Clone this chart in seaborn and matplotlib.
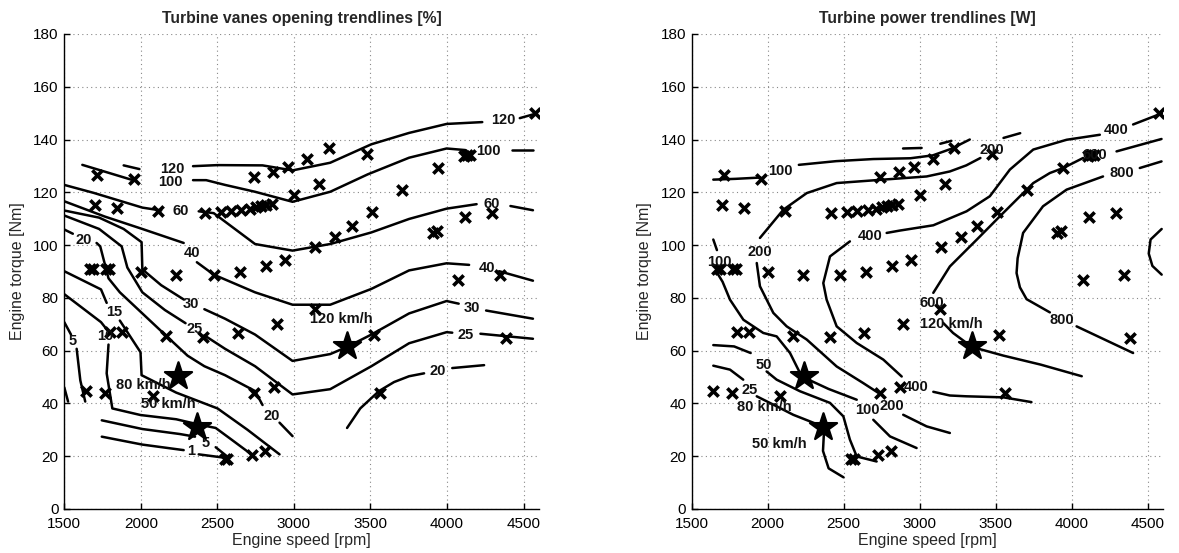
import numpy as np
import pandas as pd
import matplotlib
matplotlib.use("Agg")
import matplotlib.pyplot as plt
import seaborn as sns

# ---------------- operating points (both panels) ----------------
pts_rpm = [1715, 1953, 1698, 1843, 2112, 2418, 2522, 2586, 2657, 2711, 2755, 2787, 2820, 2857,
           2739, 2862, 2960, 3087, 3227, 3479, 3165, 3001, 3704, 3511, 3379, 3271, 3138, 2943,
           2818, 2646, 2475, 2232, 2000, 1665, 1685, 1770, 1790,
           4574, 4110, 4130, 4150, 3942, 3905, 3932, 4118, 4295, 4074, 4344, 4385,
           1796, 1880, 2164, 2409, 2636, 2891, 3136, 3523,
           1642, 1765, 2078, 2737, 2869, 3562, 2548, 2565, 2725, 2813]
pts_torque = [126.6, 125.1, 115.0, 114.2, 112.8, 112.2, 112.4, 112.8, 113.4, 113.8, 114.4, 114.9, 115.3, 115.7,
              125.8, 127.8, 129.4, 132.6, 136.8, 134.4, 123.1, 119.1, 120.8, 112.4, 107.3, 103.2, 99.1, 94.3,
              92.0, 89.7, 88.7, 88.7, 89.7, 90.9, 90.9, 90.9, 90.9,
              149.9, 133.8, 134.0, 134.0, 129.1, 104.4, 105.5, 110.5, 112.1, 86.6, 88.8, 64.8,
              67.2, 67.2, 65.7, 65.2, 66.5, 70.0, 75.7, 66.0,
              44.7, 44.1, 42.7, 44.1, 46.1, 44.1, 19.0, 19.0, 20.3, 21.9]

star_rpm = [2240, 2365, 3345]
star_torque = [50.3, 31.2, 61.8]

x_ticks = [1500, 2000, 2500, 3000, 3500, 4000, 4500]
y_ticks = [0, 20, 40, 60, 80, 100, 120, 140, 160, 180]

# ---------------- left panel: vanes opening trendlines [%] ----------------
vane_120 = [[(1888, 130.2), (1991, 128.8)],
            [(2341, 129.9), (2501, 130.3), (2795, 130.2), (2991, 128.3), (3237, 131.2), (3506, 138.2),
             (3752, 142.5), (3997, 145.9), (4230, 146.6)],
            [(4475, 148.1), (4561, 149.5)]]
vane_100 = [[(1618, 130.4), (1937, 124.8)],
            [(2341, 124.6), (2427, 124.6), (2550, 122.8), (2746, 120.2), (2991, 116.4), (3237, 120.2),
             (3482, 126.8), (3752, 133.1), (3997, 136.6), (4120, 136.0)],
            [(4426, 136.2), (4561, 136.2)]]
vane_60 = [[(1500, 122.8), (1691, 119.8), (2010, 114.2), (2133, 113.1)],
           [(2378, 112.8), (2476, 112.1), (2746, 100.4), (2991, 97.9), (3237, 100.4), (3506, 104.8),
            (3752, 109.9), (3997, 113.8), (4193, 115.5)],
           [(4414, 114.8), (4561, 113.2)]]
vane_40 = [[(1500, 116.6), (1765, 110.8), (2010, 106.1), (2280, 100.8)],
           [(2366, 93.5), (2476, 88.8), (2746, 82.1), (2991, 77.4), (3237, 77.4), (3506, 83.4),
            (3752, 90.4), (3997, 93.1), (4144, 92.5)],
           [(4340, 90.1), (4561, 86.5)]]
vane_30 = [[(1500, 113.1), (1728, 110.4), (1888, 106.1), (2005, 101.1), (2010, 90.8), (2133, 84.8), (2280, 79.4)],
           [(2415, 75.7), (2550, 72.1), (2746, 66.1), (2991, 56.1), (3237, 58.7), (3347, 61.4), (3506, 66.1),
            (3752, 74.1), (3997, 78.8), (4076, 77.8)],
           [(4255, 75.2), (4561, 72.1)]]
vane_25 = [[(1500, 111.2), (1728, 106.1), (1875, 99.5), (1912, 91.5), (2010, 82.1), (2157, 75.4), (2292, 70.4)],
           [(2415, 65.8), (2550, 60.7), (2746, 54.1), (2991, 43.4), (3237, 45.4), (3506, 54.1), (3752, 62.8),
            (3997, 67.0), (4034, 66.8)],
           [(4218, 66.4), (4561, 64.5)]]
vane_20 = [[(1500, 105.9), (1556, 104.3)],
           [(1711, 100.8), (1735, 99.5), (1789, 87.4), (1863, 82.1), (2010, 74.1), (2157, 66.1), (2305, 58.1),
            (2415, 54.1), (2550, 50.7), (2746, 44.7), (2795, 39.4)],
           [(2906, 32.7), (2991, 27.6)],
           [(3347, 30.7), (3433, 38.1), (3556, 44.7), (3654, 48.1), (3752, 50.3), (3850, 51.4)],
           [(4034, 53.4), (4242, 54.5)]]
vane_15 = [[(1500, 90.1), (1740, 83.2), (1777, 78.1)],
           [(1863, 71.4), (1998, 59.4), (2005, 50.7), (2231, 44.1), (2501, 38.1), (2697, 30.0), (2906, 20.7)]]
vane_10 = [[(1500, 81.4), (1740, 70.8), (1777, 68.1)],
           [(1789, 62.3), (1777, 51.4), (1814, 38.1), (1998, 35.6), (2231, 34.0), (2378, 32.0), (2489, 30.7),
            (2599, 26.0), (2722, 20.7)]]
vane_5 = [[(1500, 70.8), (1544, 66.1)],
          [(1581, 60.7), (1605, 48.7), (1637, 40.7)],
          [(1745, 33.6), (2010, 30.3), (2255, 28.4), (2354, 27.4)],
          [(2489, 23.4), (2562, 20.0)]]
vane_1 = [[(1500, 46.1), (1525, 40.7)],
          [(1745, 27.4), (2010, 24.4), (2280, 22.3)],
          [(2378, 20.7), (2550, 19.4)]]

vane_labels = [("120", 2206, 128.8), ("120", 4365, 147.5), ("100", 2194, 123.9), ("100", 4267, 135.8),
               ("60", 2260, 112.8), ("60", 4291, 115.5), ("40", 2336, 97.1), ("40", 4262, 91.2),
               ("30", 2324, 77.8), ("30", 4164, 76.0), ("25", 2349, 68.1), ("25", 4120, 66.1),
               ("20", 1630, 102.1), ("20", 2857, 35.4), ("20", 3936, 52.1), ("15", 1826, 74.8),
               ("10", 1770, 65.4), ("5", 1556, 63.7), ("5", 2422, 25.0), ("1", 2329, 22.0)]
vane_speed_labels = [("120 km/h", 3107, 72.0), ("80 km/h", 1838, 47.0), ("50 km/h", 2003, 39.7)]

# ---------------- right panel: turbine power trendlines [W] ----------------
pow_100a = [[(1642, 124.8), (1789, 125.1), (1953, 125.6)],
            [(2205, 130.4), (2450, 131.8), (2695, 132.6), (2940, 132.9), (3087, 134.0), (3209, 136.5), (3330, 140.0)]]
pow_150 = [[(2891, 136.6), (3013, 136.8)], [(3136, 138.4), (3209, 139.5)]]
pow_200 = [[(3662, 142.4), (3552, 140.6)],
           [(3400, 133.0), (3307, 130.2), (3199, 127.9), (3046, 126.0), (2760, 124.8), (2454, 123.5),
            (2257, 119.7), (2103, 113.4), (1949, 102.7)],
           [(1928, 93.2), (1949, 84.4), (2037, 74.3), (2125, 69.2), (2257, 64.2), (2454, 54.0), (2629, 47.7),
            (2728, 44.0)],
           [(2892, 35.7), (3046, 31.3), (3199, 28.8)]]
pow_100b = [[(1642, 102.1), (1666, 98.1)],
            [(1667, 89.5), (1703, 86.1), (1752, 79.3), (1840, 71.7), (1971, 66.7), (2059, 65.4), (2147, 59.1),
             (2224, 50.2), (2400, 45.5), (2586, 41.4)],
            [(2695, 33.8), (2805, 27.5), (2980, 23.1)]]
pow_400 = [[(4602, 150.1), (4405, 145.7)],
           [(4186, 141.8), (3967, 139.9), (3748, 136.2), (3594, 128.6), (3462, 118.5), (3309, 112.8),
            (3090, 107.5), (2870, 105.5), (2783, 104.6)],
           [(2541, 101.4), (2410, 95.7), (2366, 85.6), (2388, 79.3), (2454, 69.2), (2586, 62.9), (2761, 56.6),
            (2882, 50.2)],
           [(3090, 44.4), (3199, 43.0), (3307, 42.7), (3552, 42.3), (3736, 40.5)]]
pow_600 = [[(4592, 140.2), (4296, 135.5)],
           [(4076, 133.0), (3945, 129.2), (3857, 127.3), (3748, 123.5), (3638, 117.2), (3528, 110.9),
            (3375, 102.0), (3199, 91.9), (3090, 81.9)],
           [(3155, 70.5), (3220, 66.7), (3344, 61.4), (3552, 58.1), (3797, 54.7), (4067, 50.3)]]
pow_800 = [[(4592, 131.7), (4449, 129.2)],
           [(4207, 126.0), (3967, 121.0), (3812, 114.7), (3681, 104.6), (3645, 95.0), (3638, 89.4),
            (3660, 84.0), (3704, 79.5), (3857, 74.5)],
           [(4033, 69.2), (4405, 59.1)]]
pow_1000 = [[(4593, 106.1), (4520, 102.1), (4508, 96.8), (4532, 92.1), (4593, 88.8)]]
pow_50 = [[(1642, 62.1), (1779, 61.6), (1888, 59.1)],
          [(1993, 52.1), (2059, 49.0), (2213, 44.6), (2410, 40.2), (2498, 35.1), (2541, 26.3), (2586, 19.9),
           (2717, 18.0)]]
pow_25 = [[(1642, 54.3), (1752, 52.8), (1839, 49.0)],
          [(1928, 42.7), (2059, 38.9), (2168, 35.7), (2278, 33.2), (2372, 31.0), (2364, 22.0), (2401, 15.4),
           (2499, 12.0)]]

pow_labels = [("100", 2083, 128.2), ("200", 3474, 136.0), ("400", 4296, 143.6), ("600", 4150, 134.1),
              ("800", 4329, 127.3), ("400", 2671, 103.5), ("200", 1948, 97.5), ("100", 1679, 93.5),
              ("600", 3079, 78.0), ("800", 3934, 71.7), ("50", 1971, 54.7), ("25", 1884, 45.2),
              ("400", 2980, 46.2), ("100", 2655, 37.5), ("200", 2820, 39.2)]
pow_speed_labels = [("120 km/h", 3001, 70.0), ("80 km/h", 1801, 38.7), ("50 km/h", 1894, 24.7)]


def segments_frame(contours):
    rows = []
    sid = 0
    for contour in contours:
        for seg in contour:
            for (r, t) in seg:
                rows.append({"rpm": r, "torque": t, "seg": sid})
            sid += 1
    return pd.DataFrame(rows)


sns.set_theme(style="white")
plt.rcParams["font.family"] = ["Liberation Sans", "DejaVu Sans"]

fig = plt.figure(figsize=(11.79, 5.53), dpi=100)
ax1 = fig.add_axes([0.0545, 0.0796, 0.4026, 0.859])
ax2 = fig.add_axes([0.5867, 0.0796, 0.3995, 0.859])

panels = [
    (ax1, [vane_120, vane_100, vane_60, vane_40, vane_30, vane_25, vane_20, vane_15, vane_10, vane_5, vane_1],
     vane_labels, vane_speed_labels, "Turbine vanes opening trendlines [%]"),
    (ax2, [pow_100a, pow_150, pow_200, pow_100b, pow_400, pow_600, pow_800, pow_1000, pow_50, pow_25],
     pow_labels, pow_speed_labels, "Turbine power trendlines [W]"),
]

pts = pd.DataFrame({"rpm": pts_rpm, "torque": pts_torque})
stars = pd.DataFrame({"rpm": star_rpm, "torque": star_torque})

for ax, contours, labels, speed_labels, title in panels:
    df = segments_frame(contours)
    sns.lineplot(data=df, x="rpm", y="torque", units="seg", estimator=None, sort=False,
                 color="black", linewidth=1.8, ax=ax, legend=False)
    sns.scatterplot(data=pts, x="rpm", y="torque", marker="x", s=55, color="black",
                    linewidth=2.6, ax=ax, legend=False, zorder=3)
    sns.scatterplot(data=stars, x="rpm", y="torque", marker="*", s=420, color="black",
                    edgecolor="black", ax=ax, legend=False, zorder=4)
    for txt, r, t in labels:
        ax.text(r, t, txt, ha="center", va="center", fontsize=10.5, fontweight="bold", color="#111111")
    for txt, r, t in speed_labels:
        ax.text(r, t, txt, ha="left", va="center", fontsize=10.5, fontweight="bold", color="#111111")

    ax.set_xlim(1500, 4600)
    ax.set_ylim(0, 180)
    ax.set_xticks(x_ticks)
    ax.set_yticks(y_ticks)
    ax.grid(True, linestyle=(0, (1, 3)), color="#888888", linewidth=0.8)
    for side in ["top", "right"]:
        ax.spines[side].set_visible(False)
    for side in ["left", "bottom"]:
        ax.spines[side].set_color("black")
        ax.spines[side].set_linewidth(1.0)
    ax.tick_params(direction="in", length=4, width=1, colors="black", labelsize=11,
                   left=True, bottom=True)
    ax.tick_params(axis="x", pad=6)
    ax.tick_params(axis="y", pad=4)
    ax.set_xlabel("Engine speed [rpm]", fontsize=11.5, labelpad=1)
    ax.set_ylabel("Engine torque [Nm]", fontsize=11.5, labelpad=6)
    ax.set_title(title, fontsize=11.3, fontweight="bold", pad=8)

fig.savefig("out.png", dpi=100)
